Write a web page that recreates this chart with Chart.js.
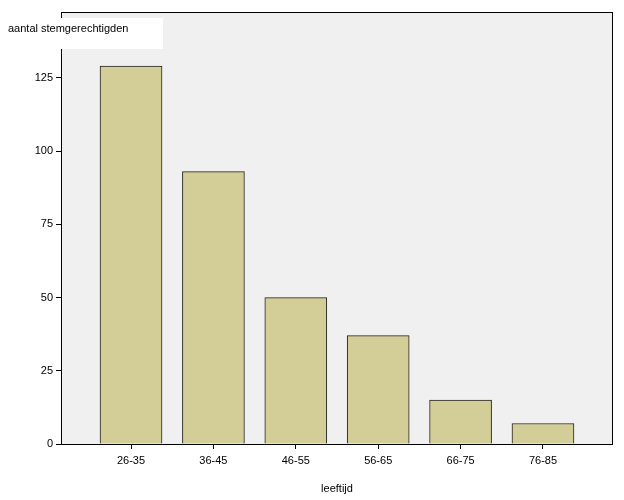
<!DOCTYPE html>
<html><head><meta charset="utf-8">
<script src="https://cdn.jsdelivr.net/npm/chart.js@4"></script>
<style>html,body{margin:0;padding:0;background:#fff}#w{width:624px;height:500px}</style>
</head><body><div id="w"><canvas id="c" width="624" height="500"></canvas></div>
<script>
const categories = ["26-35","36-45","46-55","56-65","66-75","76-85"];
const values = [129, 93, 50, 37, 15, 7];
const yTicks = [0, 25, 50, 75, 100, 125];
const yTitle = "aantal stemgerechtigden";
const xTitle = "leeftijd";

const bg = {
  id:'bg',
  beforeDraw(c){const a=c.chartArea,x=c.ctx;x.save();x.fillStyle='#f0f0f0';x.fillRect(a.left,a.top,a.right-a.left,a.bottom-a.top);x.restore();},
  afterDraw(c){const a=c.chartArea,x=c.ctx;x.save();x.strokeStyle='#000';x.lineWidth=1;
    x.strokeRect(a.left+0.5,a.top+0.5,a.right-a.left-1,a.bottom-a.top);
    x.fillStyle='#fff';x.fillRect(2,18,161,31);
    x.fillStyle='#000';x.font='11px Arial, "Liberation Sans", sans-serif';x.textBaseline='middle';x.textAlign='left';
    x.fillText(yTitle,8,29);x.restore();}
};
const F={size:11,family:'Arial, "Liberation Sans", sans-serif'};
new Chart(document.getElementById('c'),{
  type:'bar',
  data:{datasets:[{data:values.map((v,i)=>({x:i,y:v})),backgroundColor:'#d3ce98',borderColor:'#222',borderWidth:1,barThickness:62,borderSkipped:'bottom'}]},
  options:{responsive:false,animation:false,
    layout:{padding:{top:12,right:11,left:0,bottom:0}},
    plugins:{legend:{display:false},tooltip:{enabled:false}},
    scales:{
      x:{type:'linear',offset:false,min:-0.85,max:5.85,grid:{display:true,drawOnChartArea:false,tickLength:5,color:'#000',offset:false},border:{display:false},
        afterBuildTicks(s){s.ticks=categories.map((_,i)=>({value:i}));},
        ticks:{color:'#000',font:F,padding:5,autoSkip:false,maxRotation:0,callback:(v)=>categories[v]},
        title:{display:true,text:xTitle,color:'#000',font:F,padding:{top:-2}},
        afterFit(s){s.height=56;}},
      y:{min:0,max:147.5,grid:{display:true,drawOnChartArea:false,tickLength:5,color:'#000'},border:{display:false},
        afterBuildTicks(s){s.ticks=yTicks.map(v=>({value:v}));},
        ticks:{color:'#000',font:F,padding:3},
        afterFit(s){s.width=61;}}
    }},
  plugins:[bg]
});
</script></body></html>
